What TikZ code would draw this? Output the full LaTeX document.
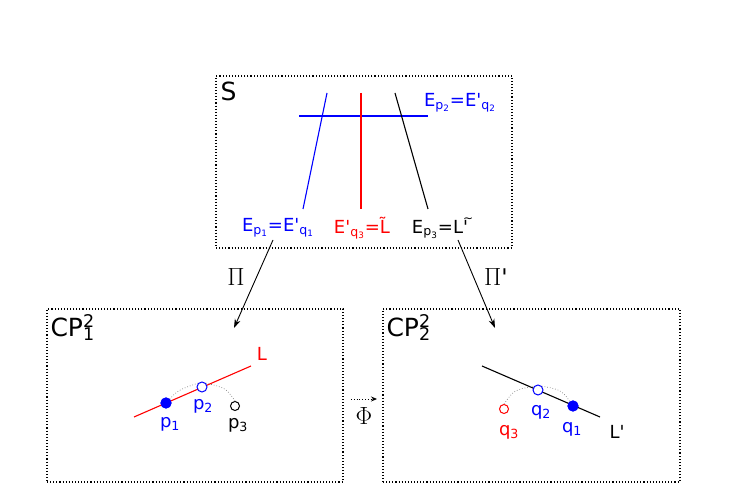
\documentclass[tikz,border=0pt]{standalone}
\usepackage{fontspec}
\setmainfont{DejaVu Sans}
\usetikzlibrary{arrows.meta,positioning}

\newcommand{\qs}{\textquotesingle}
\newcommand{\lbl}{\fontsize{18}{20}\selectfont}
\newcommand{\bigtext}{\fontsize{25}{28}\selectfont}
\newcommand{\mapfont}{\fontsize{23}{25}\selectfont}

\tikzset{
  frame/.style={draw, dotted, line width=1.1pt, inner sep=0pt},
  dot/.style={circle, draw, line width=1pt, inner sep=0pt, minimum size=10pt},
  fulldot/.style={dot, fill=#1, draw=#1},
  opendot/.style={dot, fill=white, draw=#1},
  map/.style={-{Stealth[length=9pt,width=6pt]}, line width=0.9pt},
  curve/.style={line width=1.1pt},
  arcpath/.style={gray, dotted, line width=0.7pt}
}

\begin{document}
\begin{tikzpicture}[x=1pt, y=-1pt, font=\lbl]
\useasboundingbox (0,0) rectangle (748,489);

% the three frames
\node[frame, minimum width=296pt, minimum height=172pt] (S) at (364,162) {};
\node[frame, minimum width=296pt, minimum height=173pt] (P1) at (195,395.5) {};
\node[frame, minimum width=297pt, minimum height=173pt] (P2) at (531.5,395.5) {};

\node[font=\bigtext, anchor=north west] (Stext) at (217,78) {S};
\node[font=\bigtext, anchor=north west] (P1text) at (47,311) {CP\rlap{\textsuperscript{2}}\textsubscript{1}};
\node[font=\bigtext, anchor=north west] (P2text) at (383,311) {CP\rlap{\textsuperscript{2}}\textsubscript{2}};

% curves on S
\coordinate (h1) at (299,116);  \coordinate (h2) at (428,116);
\coordinate (a1) at (327,93);   \coordinate (a2) at (303,209);
\coordinate (b1) at (361,93);   \coordinate (b2) at (361,209);
\coordinate (c1) at (395,93);   \coordinate (c2) at (428,209);
\draw[curve, blue] (h1) -- (h2);
\draw[curve, blue] (a1) -- (a2);
\draw[curve, red] (b1) -- (b2);
\draw[curve, black] (c1) -- (c2);

\node[blue] (Ep2) at (460,103) {E\textsubscript{p\textsubscript{2}}=E\qs\textsubscript{q\textsubscript{2}}};
\node[blue] (Ep1) at (278,228) {E\textsubscript{p\textsubscript{1}}=E\qs\textsubscript{q\textsubscript{1}}};
\node[red] (Eq3) at (362,228) {E\qs\textsubscript{q\textsubscript{3}}=\~{L}};
\node (Ep3) at (440,228) {E\textsubscript{p\textsubscript{3}}=L\rlap{\raisebox{0.62em}{\fontsize{12}{12}\selectfont\textasciitilde}}\qs};

% projections
\coordinate (pi1s) at (273,240); \coordinate (pi1e) at (234,328);
\coordinate (pi2s) at (458,240); \coordinate (pi2e) at (495,328);
\draw[map] (pi1s) -- (pi1e);
\draw[map] (pi2s) -- (pi2e);
\node[font=\mapfont] (Pi) at (236,277) {$\Pi$};
\node[font=\mapfont] (Pip) at (496,277) {$\Pi$\qs};

% Phi
\coordinate (phis) at (351,399); \coordinate (phie) at (377,399);
\draw[dotted, line width=0.8pt, -{Stealth[length=6pt,width=5pt]}] (phis) -- (phie);
\node[font=\mapfont] (Phi) at (364,416) {$\Phi$};

% first plane
\coordinate (L1) at (134,417); \coordinate (L2) at (251,366);
\draw[curve, red] (L1) -- (L2);
\node[red] (Ltext) at (262,354) {L};
\node[fulldot=blue] (p1) at (166,403) {};
\node[opendot=blue] (p2) at (202,387) {};
\node[opendot=black, minimum size=9pt] (p3) at (235,406) {};
\draw[arcpath] (p1.center) .. controls (178,390) .. (p2.north west);
\draw[arcpath] (p2.north east) .. controls (226,388) .. (p3.north);
\node[fulldot=blue] at (p1) {};
\node[blue] (p1text) at (170,424) {p\textsubscript{1}};
\node[blue] (p2text) at (203,406) {p\textsubscript{2}};
\node (p3text) at (238,425) {p\textsubscript{3}};

% second plane
\coordinate (M1) at (482,366); \coordinate (M2) at (600,417);
\draw[curve] (M1) -- (M2);
\node (Mtext) at (617,432) {L\qs};
\node[opendot=red, minimum size=9pt] (q3) at (504,409) {};
\node[opendot=blue] (q2) at (538,390) {};
\node[fulldot=blue] (q1) at (573,406) {};
\draw[arcpath] (q3.north) .. controls (514,390) .. (q2.north west);
\draw[arcpath] (q2.north east) .. controls (562,390) .. (q1.center);
\node[fulldot=blue] at (q1) {};
\node[red] (q3text) at (509,432) {q\textsubscript{3}};
\node[blue] (q2text) at (541,412) {q\textsubscript{2}};
\node[blue] (q1text) at (572,429) {q\textsubscript{1}};
\end{tikzpicture}
\end{document}
